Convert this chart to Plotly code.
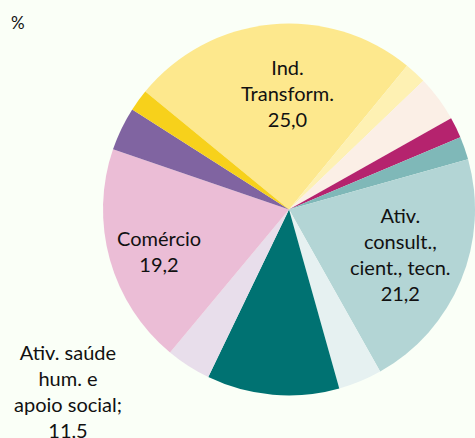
import plotly.graph_objects as go

labels = ["Ind. Transform.", "Outros 1", "Outros 2", "Outros 3", "Outros 4",
          "Ativ. consult., cient., tecn.", "Outros 5", "Ativ. saúde hum. e apoio social",
          "Outros 6", "Comércio", "Outros 7", "Outros 8"]
values = [25.0, 1.9, 4.0, 1.8, 2.0, 21.2, 3.8, 11.5, 3.9, 19.2, 3.8, 1.9]
colors = ["#FDE88D", "#FEF1B3", "#FBEFE6", "#B5236E", "#7FB8B8", "#B3D5D5",
          "#E6F1F1", "#007272", "#E8DEEB", "#EBBDD6", "#8064A1", "#F7D11B"]

def fmt(v):
    return f"{v:.1f}".replace(".", ",")

label_texts = {
    0: "Ind.<br>Transform.<br>" + fmt(values[0]),
    5: "Ativ.<br>consult.,<br>cient., tecn.<br>" + fmt(values[5]),
    9: "Comércio<br>" + fmt(values[9]),
    7: "Ativ. saúde<br>hum. e<br>apoio social;<br>" + fmt(values[7]),
}
label_pos = {0: (287, 92.5), 5: (400, 253.5), 9: (159, 251), 7: (68, 391)}

W, H = 475, 438
bg = "#FAFFF7"

fig = go.Figure(go.Pie(
    labels=labels, values=values, sort=False, direction="clockwise",
    rotation=-50.6, textinfo="none", hoverinfo="label+value",
    marker=dict(colors=colors, line=dict(width=0)),
    domain=dict(x=[103 / W, 1.0], y=[(H - 396) / H, (H - 23) / H]),
    showlegend=False,
))

annotations = []
for i, t in label_texts.items():
    x, y = label_pos[i]
    annotations.append(dict(x=x / W, y=1 - y / H, xref="paper", yref="paper",
                            text=t, showarrow=False, xanchor="center", yanchor="middle",
                            font=dict(family="Lato", size=20, color="#111111")))
annotations.append(dict(x=9 / W, y=1 - 22 / H, xref="paper", yref="paper", text="%",
                        showarrow=False, xanchor="left", yanchor="middle",
                        font=dict(family="Lato", size=17, color="#111111")))

fig.update_layout(width=W, height=H, margin=dict(l=0, r=0, t=0, b=0),
                  paper_bgcolor=bg, plot_bgcolor=bg, annotations=annotations)
fig.write_html("out.html", config={"displayModeBar": False},
               post_script="document.body.style.margin='0';document.body.style.background='" + bg + "';")
